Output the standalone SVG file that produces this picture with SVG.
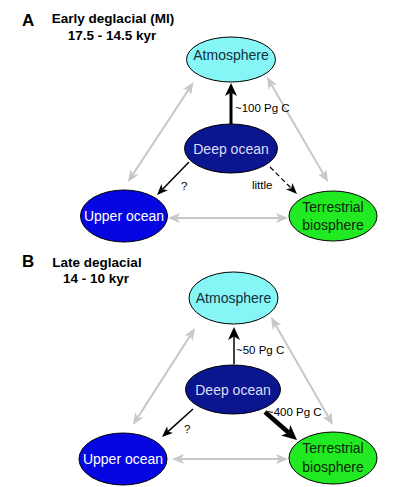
<svg xmlns="http://www.w3.org/2000/svg" width="400" height="487" viewBox="0 0 400 487">
<style>
.bg{fill:#ffffff}
.node{stroke:#000;stroke-width:1}
.atm{fill:#86f5f6}
.deep{fill:#0b1590}
.upper{fill:#0606e2}
.terr{fill:#22ea22}
.lbl{font-family:"Liberation Sans",Arial,sans-serif;font-size:14px;text-anchor:middle}
.title{font-family:"Liberation Sans",Arial,sans-serif;font-weight:bold;font-size:13.5px;fill:#000}
.letter{font-family:"Liberation Sans",Arial,sans-serif;font-weight:bold;font-size:17px;fill:#000}
.flux{font-family:"Liberation Sans",Arial,sans-serif;font-size:11.5px;fill:#000}
.gray{stroke:#c8c8c8;stroke-width:2;fill:none;marker-start:url(#hg);marker-end:url(#hg)}
.blk{stroke:#000;fill:none}
</style>
<defs>
<marker id="hg" markerUnits="userSpaceOnUse" markerWidth="12" markerHeight="10" refX="3" refY="5" orient="auto-start-reverse"><path d="M0,0 L12,5 L0,10 L3,5 z" fill="#c8c8c8"/></marker>
<marker id="hs" markerUnits="userSpaceOnUse" markerWidth="11" markerHeight="9" refX="3" refY="4.5" orient="auto"><path d="M0,0 L11,4.5 L0,9 L3,4.5 z" fill="#000"/></marker>
<marker id="hl" markerUnits="userSpaceOnUse" markerWidth="13" markerHeight="12" refX="3.5" refY="6" orient="auto"><path d="M0,0 L13,6 L0,12 L3.5,6 z" fill="#000"/></marker>
<marker id="hx" markerUnits="userSpaceOnUse" markerWidth="15" markerHeight="14" refX="4" refY="7" orient="auto"><path d="M0,0 L15,7 L0,14 L4,7 z" fill="#000"/></marker>
</defs>
<rect class="bg" x="0" y="0" width="400" height="487"/>

<g id="titles">
<text class="letter" x="22" y="26">A</text>
<text class="title" x="113" y="23" text-anchor="middle">Early deglacial (MI)</text>
<text class="title" x="112" y="40" text-anchor="middle">17.5 - 14.5 kyr</text>
<text class="letter" x="22" y="267">B</text>
<text class="title" x="97" y="267" text-anchor="middle">Late deglacial</text>
<text class="title" x="96" y="283" text-anchor="middle">14 - 10 kyr</text>
</g>

<g id="connectors">
<!-- Panel A -->
<line class="gray" x1="132.9" y1="174.4" x2="188.6" y2="89.6"/>
<line class="gray" x1="271.5" y1="84.8" x2="323.5" y2="174.2"/>
<line class="gray" x1="177" y1="218" x2="279" y2="218"/>
<line class="blk" x1="231" y1="124" x2="231" y2="92.5" stroke-width="3" marker-end="url(#hl)"/>
<line class="blk" x1="189" y1="162" x2="162.6" y2="189.3" stroke-width="1.5" marker-end="url(#hs)"/>
<line class="blk" x1="270" y1="167" x2="291.3" y2="188.3" stroke-width="1.2" stroke-dasharray="5,3" marker-end="url(#hs)"/>
<!-- Panel B -->
<line class="gray" x1="137.8" y1="417.4" x2="190.2" y2="335.6"/>
<line class="gray" x1="275.5" y1="324.8" x2="328.5" y2="417.2"/>
<line class="gray" x1="181" y1="459" x2="279" y2="459"/>
<line class="blk" x1="234" y1="364" x2="234" y2="336.5" stroke-width="1.5" marker-end="url(#hl)"/>
<line class="blk" x1="193" y1="409" x2="167.9" y2="431.6" stroke-width="1.5" marker-end="url(#hs)"/>
<line class="blk" x1="265" y1="412" x2="288.7" y2="432.8" stroke-width="4.5" marker-end="url(#hx)"/>
</g>

<g id="flux-labels">
<text class="flux" x="235" y="112">~100 Pg C</text>
<text class="flux" x="181" y="190" font-size="11">?</text>
<text class="flux" x="252" y="189" font-size="13">little</text>
<text class="flux" x="236" y="354">~50 Pg C</text>
<text class="flux" x="267" y="416">~400 Pg C</text>
<text class="flux" x="184" y="433" font-size="11">?</text>
</g>

<g id="A-atmosphere">
<ellipse class="node atm" cx="231" cy="59.5" rx="44.5" ry="22.5"/>
<text class="lbl" x="231" y="60" fill="#10303c">Atmosphere</text>
</g>
<g id="A-deep-ocean">
<ellipse class="node deep" cx="231" cy="148.5" rx="46.5" ry="24.5"/>
<text class="lbl" x="231" y="153.5" fill="#dcdff8">Deep ocean</text>
</g>
<g id="A-upper-ocean">
<ellipse class="node upper" cx="124" cy="216" rx="43.5" ry="26"/>
<text class="lbl" x="124" y="221" fill="#ffffff">Upper ocean</text>
</g>
<g id="A-terrestrial">
<ellipse class="node terr" cx="333" cy="216" rx="44" ry="25"/>
<text class="lbl" x="333" y="212" fill="#0a280a">Terrestrial</text>
<text class="lbl" x="333" y="230" fill="#0a280a">biosphere</text>
</g>

<g id="B-atmosphere">
<ellipse class="node atm" cx="233.5" cy="298" rx="44.5" ry="26"/>
<text class="lbl" x="233.5" y="303" fill="#10303c">Atmosphere</text>
</g>
<g id="B-deep-ocean">
<ellipse class="node deep" cx="233" cy="389.5" rx="47.5" ry="24.5"/>
<text class="lbl" x="233" y="395" fill="#dcdff8">Deep ocean</text>
</g>
<g id="B-upper-ocean">
<ellipse class="node upper" cx="123" cy="459" rx="44" ry="26"/>
<text class="lbl" x="123" y="464" fill="#ffffff">Upper ocean</text>
</g>
<g id="B-terrestrial">
<ellipse class="node terr" cx="333" cy="458" rx="44" ry="26"/>
<text class="lbl" x="333" y="453" fill="#0a280a">Terrestrial</text>
<text class="lbl" x="333" y="472" fill="#0a280a">biosphere</text>
</g>
</svg>
